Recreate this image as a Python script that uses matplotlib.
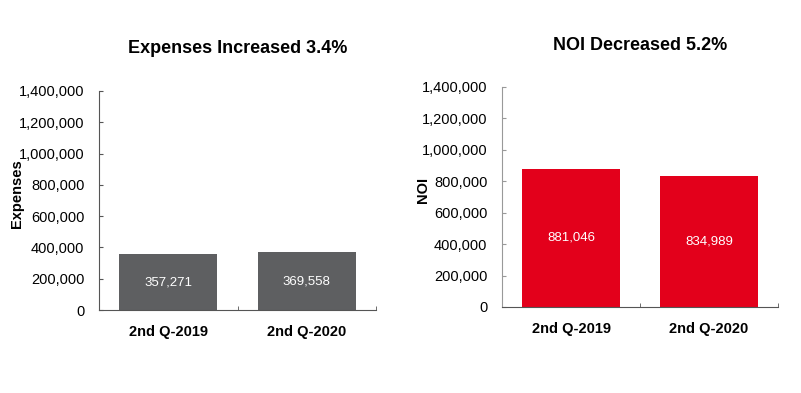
import matplotlib
matplotlib.use('Agg')
from matplotlib import pyplot as plt
from matplotlib.ticker import FuncFormatter

plt.rcParams['font.family'] = ['Liberation Sans', 'DejaVu Sans']

quarters = ['2nd Q-2019', '2nd Q-2020']
expenses = [357271, 369558]
noi = [881046, 834989]
titles = ['Expenses Increased 3.4%', 'NOI Decreased 5.2%']
ylabels = ['Expenses', 'NOI']
colors = ['#5e5f61', '#e3001b']

fig = plt.figure(figsize=(8.01, 3.93), dpi=100)
W, H = 801, 393
boxes = [(99, 310, 376, 91), (502, 307, 778, 87)]  # left, bottom, right, top in px
spine_cols = ['#555555', '#999999']
label_x = [-0.27, -0.26]

for i, vals in enumerate([expenses, noi]):
    l, b, r, t = boxes[i]
    ax = fig.add_axes([l / W, (H - b) / H, (r - l) / W, (b - t) / H])
    bars = ax.bar(range(len(quarters)), vals, width=0.71, color=colors[i])
    for bar, v in zip(bars, vals):
        ax.text(bar.get_x() + bar.get_width() / 2, v / 2, f'{v:,}',
                ha='center', va='center', color='white', fontsize=9.5)
    ax.set_xlim(-0.5, 1.5)
    ax.set_ylim(0, 1400000)
    ax.set_yticks(range(0, 1400001, 200000))
    ax.yaxis.set_major_formatter(FuncFormatter(lambda x, p: f'{int(x):,}'))
    ax.set_xticks([0, 1])
    ax.set_xticklabels(quarters, fontweight='bold', fontsize=10.5)
    ax.set_xticks([-0.5, 0.5, 1.5], minor=True)
    ax.tick_params(axis='x', which='major', length=0, pad=11)
    ax.tick_params(axis='x', which='minor', direction='in', length=3, color='#555555')
    ax.tick_params(axis='y', direction='in', length=3, pad=10.5, labelsize=10.5,
                   color=spine_cols[i])
    for s in ['top', 'right']:
        ax.spines[s].set_visible(False)
    ax.spines['left'].set_color(spine_cols[i])
    ax.spines['bottom'].set_color('#555555')
    ax.set_ylabel(ylabels[i], fontweight='bold', fontsize=10.5)
    ax.yaxis.set_label_coords(label_x[i], 0.53)
    ax.set_title(titles[i], fontweight='bold', fontsize=13, pad=27)

fig.savefig('out.png', dpi=100)
